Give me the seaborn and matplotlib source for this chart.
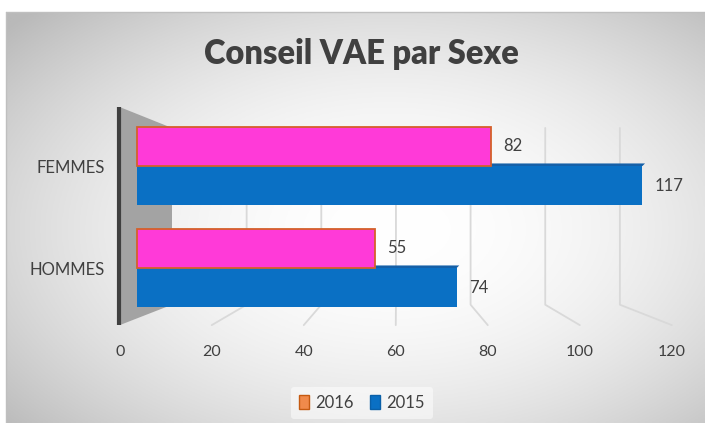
import numpy as np
import matplotlib.pyplot as plt
import pandas as pd
import seaborn as sns
from matplotlib.patches import Polygon, Patch

categories = ["FEMMES", "HOMMES"]
values_2016 = [82, 55]
values_2015 = [117, 74]
years = ["2016", "2015"]
tick_values = [0, 20, 40, 60, 80, 100, 120]

df = pd.DataFrame({
    "Sexe": categories * 2,
    "Annee": [years[0]] * 2 + [years[1]] * 2,
    "Valeur": values_2016 + values_2015,
})

sns.set_style("white")
plt.rcParams["font.family"] = ["Lato", "DejaVu Sans"]

W, H = 705, 423
fig = plt.figure(figsize=(W / 100, H / 100), dpi=100)

# radial grey background of the chart area
bg = fig.add_axes([6 / W, 0, (W - 6) / W, (H - 12) / H], zorder=-5)
xx, yy = np.meshgrid(np.linspace(6, W, 300), np.linspace(12, H, 200))
r2 = (((xx - 390) / 340) ** 2 + ((yy - 230) / 205) ** 2) / 2
gray = np.clip(255 - 62 * r2, 185, 255) / 255
bg.imshow(np.dstack([gray, gray, gray]), aspect="auto", extent=[0, 1, 0, 1])
bg.set_axis_off()
fig.add_artist(plt.Line2D([6 / W, 1], [1 - 12 / H] * 2, color="#BFBFBF", lw=1))
fig.add_artist(plt.Line2D([6 / W] * 2, [0, 1 - 12 / H], color="#BFBFBF", lw=1))

# main axes, px -> data: x=(px-137)/4.32, y=(py-166)/102
left, right, top, bottom = 110, 690, 100, 330
ax = fig.add_axes([left / W, 1 - bottom / H, (right - left) / W, (bottom - top) / H])
ax.patch.set_alpha(0)

pal = {"2016": "#FF3AD8", "2015": "#0A70C4"}
sns.barplot(data=df, y="Sexe", x="Valeur", hue="Annee", hue_order=years,
            palette=pal, width=0.77, orient="h", ax=ax, legend=False,
            saturation=1)
ax.set_xlim((left - 137) / 4.32, (right - 137) / 4.32)
ax.set_ylim((bottom - 166) / 102, (top - 166) / 102)

# perspective planes
def front(v):
    return -4.0 + 1.065 * v

def back(v):
    return 8.1 + 0.864 * v

y_wall_top, y_back_top, y_back_bot, y_front_bot = -0.578, -0.373, 1.36, 1.56
ax.add_patch(Polygon([(front(0), y_wall_top), (back(0), y_back_top),
                      (back(0), y_back_bot), (front(0), y_front_bot)],
                     closed=True, facecolor="#A3A3A3", edgecolor="none", zorder=0.3))
ax.plot([front(0) - 0.2] * 2, [y_wall_top, y_front_bot], color="#404040", lw=3,
        zorder=0.35, solid_capstyle="butt")
for v in tick_values[1:]:
    ax.plot([back(v), back(v), front(v)], [y_back_top, y_back_bot, y_front_bot],
            color="#D9D9D9", lw=1.3, zorder=0.2)

# bars styling
pink, blue = ax.containers[0], ax.containers[1]
for p in pink:
    p.set_edgecolor("#D4602A")
    p.set_linewidth(1.3)
    p.set_zorder(2)
for p in blue:
    p.set_edgecolor("none")
    p.set_zorder(1.5)
    x0, y0 = p.get_x(), p.get_y()
    x1 = x0 + p.get_width()
    ax.add_patch(Polygon([(x0, y0), (x1, y0), (x1 + 0.6, y0 - 0.025), (x0 + 0.6, y0 - 0.025)],
                         closed=True, facecolor="#1560A8", edgecolor="none", zorder=1.2))

ax.bar_label(pink, padding=9, fontsize=12, color="#404040")
ax.bar_label(blue, padding=9, fontsize=12, color="#404040")

ax.set_xticks([front(v) for v in tick_values], [str(v) for v in tick_values])
ax.tick_params(axis="x", length=0, pad=11, labelsize=11.5, labelcolor="#404040")
ax.tick_params(axis="y", length=0, pad=4, labelsize=12, labelcolor="#404040")
ax.set_xlabel("")
ax.set_ylabel("")
sns.despine(ax=ax, left=True, bottom=True)

fig.text(361 / W, 1 - 54 / H, "Conseil VAE par Sexe", ha="center", va="center",
         fontsize=23.5, fontweight="heavy", color="#404040")

handles = [Patch(facecolor="#F08A4B", edgecolor="#C55A11", label="2016"),
           Patch(facecolor="#0A70C4", edgecolor="#0A60A8", label="2015")]
leg = fig.legend(handles=handles, loc="center", bbox_to_anchor=(362 / W, 1 - 403 / H),
                 ncol=2, frameon=True, fontsize=12, handlelength=0.6, handleheight=0.9,
                 handletextpad=0.35, columnspacing=1.0, borderpad=0.5)
leg.get_frame().set_facecolor("white")
leg.get_frame().set_alpha(0.5)
leg.get_frame().set_edgecolor("none")
for t in leg.get_texts():
    t.set_color("#404040")

fig.savefig("out.png", dpi=100)
